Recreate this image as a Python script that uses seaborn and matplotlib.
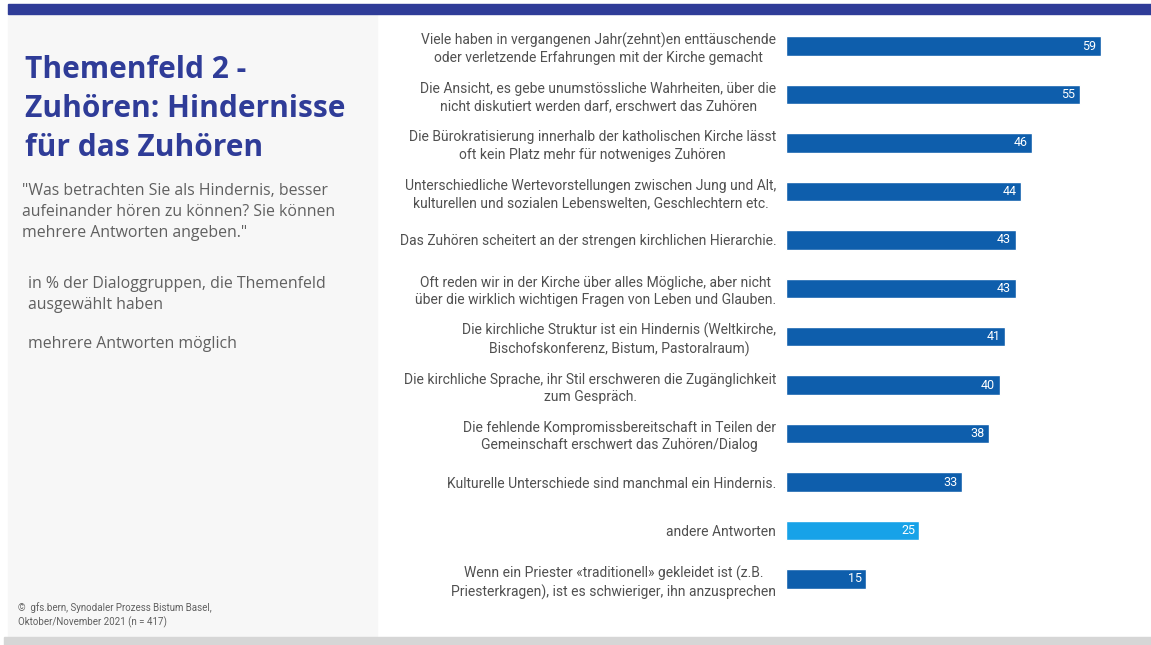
import matplotlib
matplotlib.use("Agg")
import matplotlib.pyplot as plt
import matplotlib.patches as patches
import seaborn as sns
import pandas as pd
from matplotlib import font_manager

W, H = 1151, 645

categories = [
    "Viele haben in vergangenen Jahr(zehnt)en enttäuschende\noder verletzende Erfahrungen mit der Kirche gemacht",
    "Die Ansicht, es gebe unumstössliche Wahrheiten, über die\nnicht diskutiert werden darf, erschwert das Zuhören",
    "Die Bürokratisierung innerhalb der katholischen Kirche lässt\noft kein Platz mehr für notweniges Zuhören",
    "Unterschiedliche Wertevorstellungen zwischen Jung und Alt,\nkulturellen und sozialen Lebenswelten, Geschlechtern etc.",
    "Das Zuhören scheitert an der strengen kirchlichen Hierarchie.",
    "Oft reden wir in der Kirche über alles Mögliche, aber nicht\nüber die wirklich wichtigen Fragen von Leben und Glauben.",
    "Die kirchliche Struktur ist ein Hindernis (Weltkirche,\nBischofskonferenz, Bistum, Pastoralraum)",
    "Die kirchliche Sprache, ihr Stil erschweren die Zugänglichkeit\nzum Gespräch.",
    "Die fehlende Kompromissbereitschaft in Teilen der\nGemeinschaft erschwert das Zuhören/Dialog",
    "Kulturelle Unterschiede sind manchmal ein Hindernis.",
    "andere Antworten",
    "Wenn ein Priester «traditionell» gekleidet ist (z.B.\nPriesterkragen), ist es schwieriger, ihn anzusprechen",
]
values = [59, 55, 46, 44, 43, 43, 41, 40, 38, 33, 25, 15]
groups = ["main"] * 10 + ["other"] + ["main"]

df = pd.DataFrame({"label": categories, "value": values, "group": groups})

sns.set_theme(style="white")
installed = {f.name for f in font_manager.fontManager.ttflist}
narrow = "Liberation Sans Narrow" if "Liberation Sans Narrow" in installed else "Roboto"
plt.rcParams["font.family"] = ["Open Sans", "Noto Sans", "DejaVu Sans"]

fig = plt.figure(figsize=(W / 100, H / 100), dpi=100)
fig.patch.set_facecolor("white")


def fx(x):
    return x / W


def fy(y):
    return 1 - y / H


# background bands
fig.patches.append(patches.Rectangle((fx(8), fy(637)), fx(377) - fx(8), fy(14) - fy(637),
                                     transform=fig.transFigure, color="#f7f7f7", zorder=0))
fig.patches.append(patches.Rectangle((fx(8), fy(14)), 1 - fx(8), fy(4) - fy(14),
                                     transform=fig.transFigure, color="#2f3c98", zorder=0))
fig.patches.append(patches.Rectangle((fx(4), 0), 1 - fx(4), fy(637),
                                     transform=fig.transFigure, color="#d6d6d6", zorder=0))

# left panel texts
fig.text(fx(25), fy(55), "Themenfeld 2 -\nZuhören: Hindernisse\nfür das Zuhören",
         ha="left", va="top", fontsize=21.5, fontweight="bold", color="#2f3c98",
         linespacing=1.4)
fig.text(fx(22), fy(183), "\"Was betrachten Sie als Hindernis, besser\naufeinander hören zu können? Sie können\nmehrere Antworten angeben.\"",
         ha="left", va="top", fontsize=11.4, color="#606060", linespacing=1.4)
fig.text(fx(28), fy(276), "in % der Dialoggruppen, die Themenfeld\nausgewählt haben",
         ha="left", va="top", fontsize=11.4, color="#606060", linespacing=1.4)
fig.text(fx(28), fy(336), "mehrere Antworten möglich",
         ha="left", va="top", fontsize=11.4, color="#606060")
fig.text(fx(18), fy(602), "©  gfs.bern, Synodaler Prozess Bistum Basel,\nOktober/November 2021 (n = 417)",
         ha="left", va="top", fontsize=7, color="#606060", linespacing=1.4,
         family=[narrow, "DejaVu Sans"])

# bar axes
top_px, bot_px = 46 - 24.2, 579 + 24.2
ax = fig.add_axes([fx(786), fy(bot_px), fx(1149) - fx(786), fy(top_px) - fy(bot_px)])
ax.set_facecolor("none")

sns.barplot(data=df, y="label", x="value", hue="group", order=categories,
            palette={"main": "#0e5eac", "other": "#17a2e8"}, dodge=False,
            width=0.4, legend=False, ax=ax, saturation=1)

ax.set_xlim(0, 68)
ax.set_ylim(11.5, -0.5)
ax.set_xlabel("")
ax.set_ylabel("")
ax.set_xticks([])
for s in ax.spines.values():
    s.set_visible(False)
ax.tick_params(axis="y", length=0, pad=7)
for t in ax.get_yticklabels():
    t.set_fontfamily([narrow, "DejaVu Sans"])
    t.set_fontsize(10)
    t.set_color("#505050")
    t.set_multialignment("center")
    t.set_linespacing(1.3)

for i, v in enumerate(values):
    ax.text(v - 0.8, i, str(v), ha="right", va="center", color="white",
            fontsize=9, family=[narrow, "DejaVu Sans"])

fig.savefig("out.png", dpi=100)
